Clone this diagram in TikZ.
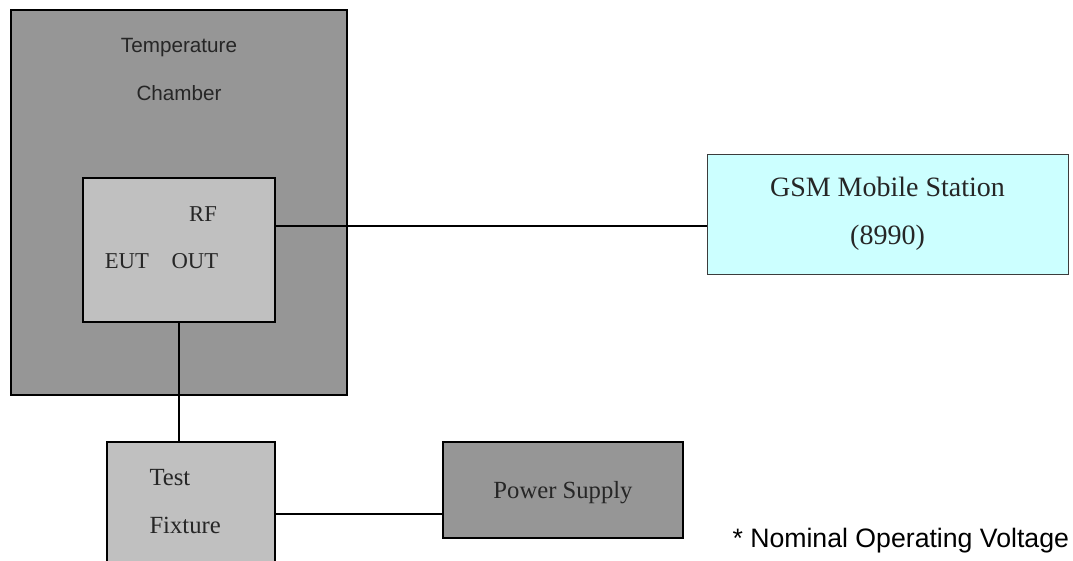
\documentclass[tikz,border=0pt]{standalone}
\usepackage{fontspec}
\setmainfont{Liberation Serif}
\setsansfont{Liberation Sans}

\tikzset{every picture/.style={line width=0.75pt}}
\tikzset{
  blk/.style={draw, line width=1.5pt, inner sep=0pt, outer sep=0pt},
  lbl/.style={inner sep=0pt, text=black!85}
}

\begin{document}
\begin{tikzpicture}[x=0.75pt,y=0.75pt,yscale=-1,xscale=1]
\useasboundingbox (0,0) rectangle (1073,560);

%Shape: Rectangle [chamber]
\node [blk, fill={rgb, 255:red, 150; green, 150; blue, 150 }, minimum width=252pt, minimum height=288.75pt] (chamber) at (179,202.5) {};
%Shape: Rectangle [eut]
\node [blk, fill={rgb, 255:red, 192; green, 192; blue, 192 }, minimum width=144pt, minimum height=108pt] (eut) at (179,250) {};
%Shape: Rectangle [gsm]
\node [blk, line width=0.75pt, draw={rgb, 255:red, 60; green, 60; blue, 60 }, fill={rgb, 255:red, 204; green, 255; blue, 255 }, minimum width=270.75pt, minimum height=90pt] (gsm) at (887.5,214) {};
%Shape: Rectangle [fixture]
\node [blk, fill={rgb, 255:red, 192; green, 192; blue, 192 }, minimum width=126pt, minimum height=108pt] (fixture) at (191,514) {};
%Shape: Rectangle [supply]
\node [blk, fill={rgb, 255:red, 150; green, 150; blue, 150 }, minimum width=180pt, minimum height=72pt] (supply) at (563,490) {};

%Straight Lines
\draw [line width=1.5pt] ([yshift=-18pt]eut.east) -- ([yshift=-18pt]eut.east -| gsm.west) ;
%Straight Lines
\draw [line width=1.5pt] (eut.south) -- (eut.south |- fixture.north) ;
%Straight Lines
\draw [line width=1.5pt] (fixture.east) -- (fixture.east -| supply.west) ;

%Texts
\draw (179,69) node [lbl, align=center, font=\sffamily\fontsize{15.5}{36}\selectfont] (chambertxt) {Temperature\\Chamber};
\draw (203,214) node [lbl, font=\fontsize{17}{20}\selectfont] (rftxt) {RF};
\draw (161.5,261) node [lbl, font=\fontsize{17}{20}\selectfont] (euttxt) {EUT\hspace{17pt}OUT};
\draw (887.5,214) node [lbl, align=center, font=\fontsize{21}{36}\selectfont] (gsmtxt) {GSM Mobile Station\\(8990)};
\draw (149,501.5) node [lbl, anchor=west, align=left, font=\fontsize{18.5}{35.5}\selectfont] (fixturetxt) {Test\\Fixture};
\draw (563,493) node [lbl, font=\fontsize{18.5}{20}\selectfont] (supplytxt) {Power Supply};
\draw (732,541) node [anchor=west, inner sep=0pt, font=\sffamily\fontsize{20}{24}\selectfont] (notetxt) {* Nominal Operating Voltage};

\end{tikzpicture}
\end{document}
